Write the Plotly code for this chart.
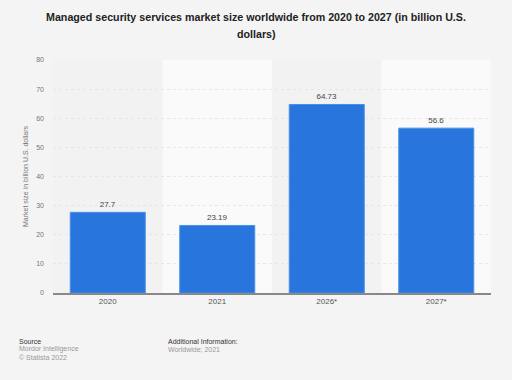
import plotly.graph_objects as go

categories = ["2020", "2021", "2026*", "2027*"]
values = [27.7, 23.19, 64.73, 56.6]
value_labels = ["27.7", "23.19", "64.73", "56.6"]
y_ticks = [0, 10, 20, 30, 40, 50, 60, 70, 80]
title_lines = [
    "Managed security services market size worldwide from 2020 to 2027 (in billion U.S.",
    "dollars)",
]

BLUE = "#2876dd"
FONT = "Liberation Sans, Arial, sans-serif"
W, H = 512, 380
L, R, T, B = 53, 21, 60, 87

fig = go.Figure()
fig.add_trace(go.Bar(
    x=categories, y=values,
    marker=dict(color=BLUE, line=dict(color="#4a8fe6", width=1)),
    text=value_labels, textposition="outside",
    textfont=dict(family=FONT, size=8, color="#444444"),
    cliponaxis=False,
    width=0.685,
    hoverinfo="skip",
))

shapes = []
for i, c in enumerate(categories):
    shapes.append(dict(
        type="rect", xref="x", yref="paper",
        x0=i - 0.5, x1=i + 0.5, y0=0, y1=1,
        fillcolor="#f2f2f2" if i % 2 == 0 else "#fafafa",
        line=dict(width=0), layer="below",
    ))

fig.update_layout(
    width=W, height=H,
    margin=dict(l=L, r=R, t=T, b=B),
    paper_bgcolor="#f4f4f4",
    plot_bgcolor="#f4f4f4",
    showlegend=False,
    shapes=shapes,
    xaxis=dict(
        type="category",
        tickfont=dict(family=FONT, size=8, color="#555555"),
        showgrid=False, showline=True, linecolor="#888888", linewidth=1.5,
        ticks="", range=[-0.5, 3.5],
    ),
    yaxis=dict(
        range=[0, 80], tickvals=y_ticks,
        tickfont=dict(family=FONT, size=7, color="#777777"),
        showgrid=True, gridcolor="#e6e6e6", griddash="dot", gridwidth=1,
        zeroline=False, showline=False, ticks="", ticklabelstandoff=8,
        title=dict(text="Market size in billion U.S. dollars",
                   font=dict(family=FONT, size=7, color="#777777"), standoff=6),
    ),
    bargap=0.315,
)


def px_x(x):
    return (x - L) / (W - L - R)


def px_y(y):
    return (H - B - y) / (H - T - B)


for line, yy in zip(title_lines, [17, 34]):
    fig.add_annotation(
        xref="paper", yref="paper", x=px_x(256), y=px_y(yy),
        text="<b>" + line + "</b>", showarrow=False,
        xanchor="center", yanchor="middle",
        font=dict(family=FONT, size=10.7, color="#222222"),
    )

footer = [
    dict(x=17, y=341, text="Source", color="#333333"),
    dict(x=17, y=349, text="Mordor Intelligence", color="#999999"),
    dict(x=17, y=357, text="© Statista 2022", color="#999999"),
    dict(x=166, y=341, text="Additional Information:", color="#333333"),
    dict(x=166, y=349, text="Worldwide; 2021", color="#999999"),
]
for f in footer:
    fig.add_annotation(
        xref="paper", yref="paper", x=px_x(f["x"]), y=px_y(f["y"]),
        text=f["text"], showarrow=False, xanchor="left", yanchor="middle",
        font=dict(family=FONT, size=7, color=f["color"]),
    )

fig.write_html(
    "out.html",
    config={"displayModeBar": False},
    post_script="document.body.style.margin='0';document.body.style.background='#f4f4f4';",
)
